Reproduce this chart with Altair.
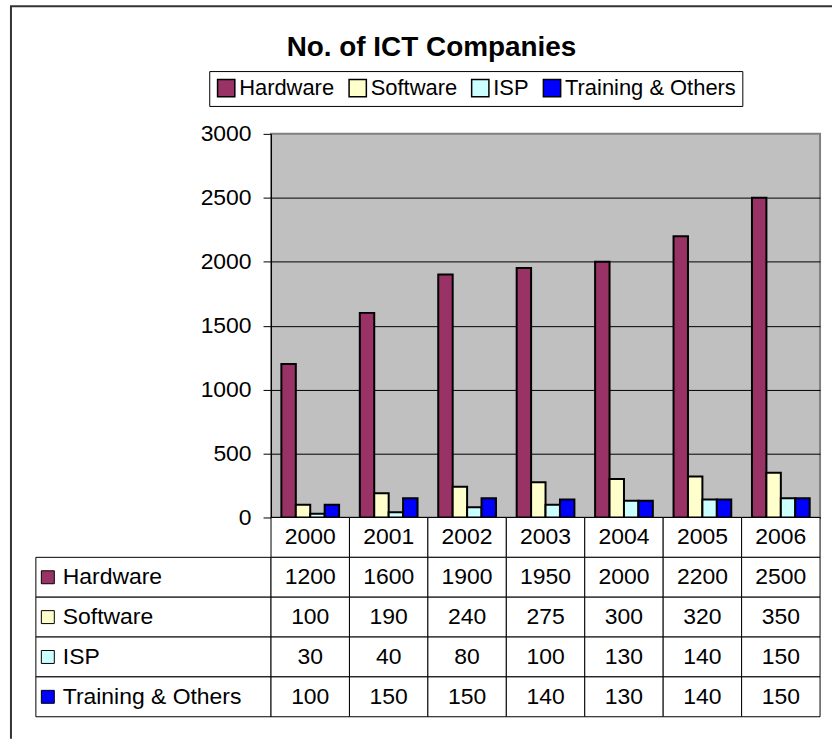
import altair as alt
import pandas as pd

# ---- data ----
years = ["2000", "2001", "2002", "2003", "2004", "2005", "2006"]
series = ["Hardware", "Software", "ISP", "Training & Others"]
hardware = [1200, 1600, 1900, 1950, 2000, 2200, 2500]
software = [100, 190, 240, 275, 300, 320, 350]
isp = [30, 40, 80, 100, 130, 140, 150]
training = [100, 150, 150, 140, 130, 140, 150]
colors = ["#993366", "#FFFFCC", "#CCFFFF", "#0000FF"]
y_ticks = [0, 500, 1000, 1500, 2000, 2500, 3000]
title_text = "No. of ICT Companies"
header_row = "Year"

rows = []
for s, vals in zip(series, [hardware, software, isp, training]):
    for yr, v in zip(years, vals):
        rows.append({"year": yr, "series": s, "value": v, "row": s, "label": str(v)})
df = pd.DataFrame(rows)
hdr = pd.DataFrame({"year": years, "row": header_row, "label": years})
table_df = pd.concat([hdr, df[["year", "row", "label"]]], ignore_index=True)
row_order = [header_row] + series
lab_df = pd.DataFrame({"row": series, "color": colors, "col": "label"})

FONT = "Liberation Sans"
FS = 23
W_PLOT, H_PLOT = 551, 385
W_LAB, H_TAB = 236, 200

# ---- top-left cell: frame lines and title ----
one = pd.DataFrame({"a": [0]})
frame_left = alt.Chart(one).mark_rule(color="#333333", strokeWidth=2).encode(
    x=alt.value(-25), y=alt.value(-128), y2=alt.value(607))
frame_top = alt.Chart(one).mark_rule(color="#333333", strokeWidth=2).encode(
    x=alt.value(-26), x2=alt.value(799), y=alt.value(-128))
title = alt.Chart(pd.DataFrame({"t": [title_text]})).mark_text(
    font=FONT, fontSize=28, fontWeight="bold", align="center",
    baseline="alphabetic", color="black").encode(
    text="t:N", x=alt.value(397), y=alt.value(-78))
spacer = alt.layer(frame_left, frame_top, title).properties(
    width=W_LAB, height=H_PLOT,
    view=alt.ViewBackground(stroke="transparent", fill="transparent"))

# ---- bar chart ----
bars = alt.Chart(df).mark_bar(stroke="black", strokeWidth=2, strokeJoin="miter").encode(
    x=alt.X("year:N", sort=years,
            scale=alt.Scale(paddingInner=0.264, paddingOuter=0.132),
            axis=alt.Axis(labels=False, ticks=False, title=None, grid=False,
                          domainColor="black", domainWidth=1)),
    xOffset=alt.XOffset("series:N", sort=series,
                        scale=alt.Scale(domain=series, paddingInner=0, paddingOuter=0)),
    y=alt.Y("value:Q", scale=alt.Scale(domain=[0, 3000], nice=False),
            axis=alt.Axis(values=y_ticks, format="d", title=None, labelFont=FONT,
                          labelFontSize=FS, labelColor="black", labelPadding=12, tickSize=8,
                          tickColor="black", domainColor="black", domainWidth=1,
                          grid=True, gridWidth=1,
                          gridColor={"condition": {"test": "datum.value === 3000",
                                                   "value": "transparent"},
                                     "value": "black"})),
    color=alt.Color("series:N", sort=series,
                    scale=alt.Scale(domain=series, range=colors),
                    legend=alt.Legend(orient="none", legendX=174, legendY=-63,
                                      direction="horizontal", title=None,
                                      labelFont=FONT, labelFontSize=22, labelColor="black",
                                      symbolType="square", symbolSize=300,
                                      symbolStrokeColor="black", symbolStrokeWidth=1.5,
                                      symbolOpacity=1, strokeColor="black",
                                      fillColor="white", padding=6, columnPadding=11,
                                      labelOffset=2, labelLimit=400)),
).properties(width=W_PLOT, height=H_PLOT,
             view=alt.ViewBackground(fill="#C0C0C0", stroke="#808080", strokeWidth=2))

# ---- data table (right part) ----
tx = alt.X("year:N", sort=years, axis=None, scale=alt.Scale(paddingInner=0, paddingOuter=0))
ty = alt.Y("row:N", axis=None, scale=alt.Scale(domain=row_order, paddingInner=0, paddingOuter=0))
cells = alt.Chart(table_df).mark_rect(fill="white", stroke="black", strokeWidth=1).encode(x=tx, y=ty)
texts = alt.Chart(table_df).mark_text(font=FONT, fontSize=FS, color="black").encode(
    x=tx, y=ty, text="label:N")
table = alt.layer(cells, texts).properties(
    width=W_PLOT, height=H_TAB, view=alt.ViewBackground(stroke="transparent"))

# ---- data table (label column) ----
lx = alt.X("col:N", axis=None, scale=alt.Scale(paddingInner=0, paddingOuter=0))
lab_cells = alt.Chart(lab_df).mark_rect(fill="white", stroke="black", strokeWidth=1).encode(x=lx, y=ty)
swatches = alt.Chart(lab_df).mark_square(size=169, opacity=1, filled=True,
                                        stroke="black", strokeWidth=1).encode(
    x=alt.value(12), y=ty, fill=alt.Fill("color:N", scale=None))
lab_text = alt.Chart(lab_df).mark_text(align="left", font=FONT, fontSize=FS, color="black").encode(
    x=alt.value(27), y=ty, text="row:N")
labels = alt.layer(lab_cells, swatches, lab_text).properties(
    width=W_LAB, height=H_TAB, view=alt.ViewBackground(stroke="transparent"))

chart = alt.concat(spacer, bars, labels, table, columns=2, spacing=0, bounds="flush").resolve_scale(
    x="independent", y="independent"
).properties(
    padding={"left": 8, "top": 3, "right": 0, "bottom": 0}, background="white"
).configure_view(stroke="transparent")

chart.save("out.html", embed_options={"renderer": "svg", "actions": False})
